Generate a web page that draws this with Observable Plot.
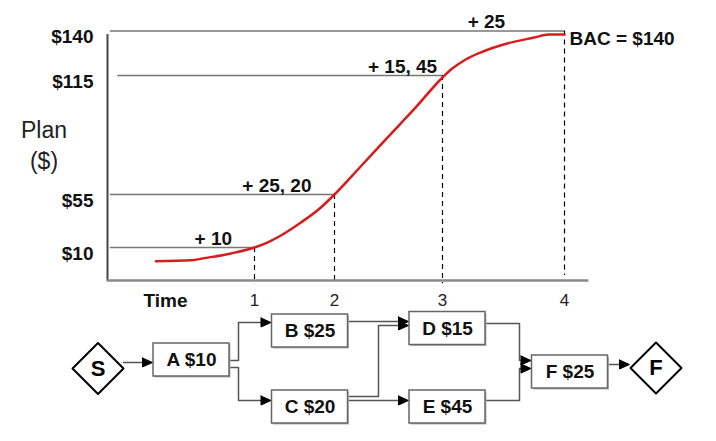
<!DOCTYPE html>
<html><head><meta charset="utf-8">
<script src="https://cdn.jsdelivr.net/npm/d3@7"></script>
<script src="https://cdn.jsdelivr.net/npm/@observablehq/plot@0.6"></script>
<style>
html,body{margin:0;padding:0;background:#fff;}
#chart svg{display:block;}
</style></head><body><div id="chart"></div>
<script>
// ---- chart data ----
const periods = [1, 2, 3, 4];
const cumulativePlan = [10, 55, 115, 140];
const yTickLabels = ["$10", "$55", "$115", "$140"];
const periodIncrements = ["+ 10", "+ 25, 20", "+ 15, 45", "+ 25"];
const incrementLabelTime = [0.72, 1.28, 2.63, 3.36];
const bac = 140;
const curveTime  = [0.33, 0.57, 0.65, 0.84, 1.0, 1.16, 1.33, 1.58, 1.83, 2.0, 2.24, 2.49, 2.75, 3.0, 3.08, 3.19, 3.31, 3.53, 3.75, 3.87, 4.0];
const curvePlan  = [5.8, 6.1, 6.7, 8.2, 10, 14.2, 20.2, 31.2, 44, 55, 69, 83.7, 98.8, 114, 118.9, 124, 127.9, 133, 136.3, 138, 138];

// ---- network data ----
const activities = ["A", "B", "C", "D", "E", "F"];
const activityCost = [10, 25, 20, 15, 45, 25];
const dependencies = [["S","A"],["A","B"],["A","C"],["B","D"],["C","D"],["C","E"],["D","F"],["E","F"],["F","End"]];

const font = "'Liberation Sans', Arial, Helvetica, sans-serif";
const rows = periods.map((t, i) => ({t, v: cumulativePlan[i], label: yTickLabels[i], inc: periodIncrements[i], lt: incrementLabelTime[i]}));
const curve = curveTime.map((t, i) => ({t, v: curvePlan[i]}));

const chart = Plot.plot({
  width: 716, height: 312, margin: 0,
  x: {type: "linear", domain: [0, 1, 2, 3, 4], range: [107, 254, 334, 442, 564], axis: null},
  y: {type: "linear", domain: [0, 10, 55, 115, 140], range: [280, 247, 194, 75, 30.5], axis: null},
  style: {fontFamily: font, background: "white", overflow: "visible"},
  marks: [
    Plot.ruleY(rows, {y: "v", x1: (d, i) => i === 2 ? 0.07 : 0.02, x2: "t", stroke: "#777", strokeWidth: 1.5}),
    Plot.ruleX(rows, {x: "t", y1: "v", y2: d => d.t === 4 ? 1.5 : -1, stroke: "#000", strokeWidth: 1.2, strokeDasharray: "5,4"}),
    Plot.ruleX([0], {x: d => d, y1: -0.3, y2: 138, stroke: "#444", strokeWidth: 2}),
    Plot.ruleY([0], {y: d => d, x1: 0, x2: 4.2, stroke: "#8a8a8a", strokeWidth: 2.5}),
    Plot.line(curve, {x: "t", y: "v", curve: "monotone-x", stroke: "#d81c1c", strokeWidth: 2.5}),
    Plot.text(rows, {x: () => 0, y: "v", text: "label", dx: -14, dy: 6, textAnchor: "end", fontWeight: "bold", fontSize: 19, fill: "#111"}),
    Plot.text(rows, {x: "lt", y: "v", text: "inc", lineAnchor: "bottom", dy: -3, fontWeight: "bold", fontSize: 19, fill: "#111"}),
    Plot.text([bac], {x: () => 4, y: d => d, text: d => `BAC = $${d}`, textAnchor: "start", dx: 5, dy: 8, fontWeight: "bold", fontSize: 19, fill: "#111"}),
    Plot.text(periods, {x: d => d, y: () => 0, text: d => String(d), dy: 20, fontSize: 17, fill: "#222"}),
    Plot.text(["Time"], {x: () => 0, y: () => 0, text: d => d, dx: 58, dy: 20, fontWeight: "bold", fontSize: 19, fill: "#111"}),
    Plot.text(["Plan"], {frameAnchor: "top-left", text: d => d, dx: 43.5, dy: 130, textAnchor: "middle", lineAnchor: "middle", fontSize: 23, fill: "#222"}),
    Plot.text(["($)"], {frameAnchor: "top-left", text: d => d, dx: 43.5, dy: 161, textAnchor: "middle", lineAnchor: "middle", fontSize: 23, fill: "#222"})
  ]
});

// ---- network layout (schematic positions) ----
const center = {S: [97.5, 368], A: [191, 359.5], B: [309.5, 330.5], C: [309.5, 406.5], D: [447, 328], E: [447, 406.5], F: [569.5, 371.5], End: [655.5, 367.5]};
const boxW = 76, boxH = 33, dia = 25.5;
const portY = {"S-A": [362, 362], "A-B": [360, 322], "A-C": [367, 400], "B-D": [321, 321], "C-D": [396, 325], "C-E": [400, 400], "D-F": [323, 360], "E-F": [400, 368], "F-End": [364, 364]};
const elbowX = {"A-B": 238, "A-C": 238, "C-D": 378, "D-F": 519, "E-F": 519};
const halfW = id => (id === "S" || id === "End") ? dia : boxW / 2;

const boxes = activities.map((a, i) => ({id: a, label: `${a} $${activityCost[i]}`, cx: center[a][0], cy: center[a][1]}));
const diamonds = [{id: "S", label: "S"}, {id: "End", label: "F"}];
const diamondPts = diamonds.flatMap(d => {
  const [cx, cy] = center[d.id];
  return [[cx - dia, cy], [cx, cy - dia], [cx + dia, cy], [cx, cy + dia], [cx - dia, cy]].map(([x, y]) => ({id: d.id, x, y}));
});
const edgePts = [], headPts = [];
dependencies.forEach(([s, t]) => {
  const key = `${s}-${t}`;
  const [y0, y1] = portY[key];
  const x0 = center[s][0] + halfW(s);
  const tip = center[t][0] - halfW(t) - 1;
  const pts = [[x0, y0]];
  if (elbowX[key]) { pts.push([elbowX[key], y0], [elbowX[key], y1]); }
  pts.push([tip - 8, y1]);
  pts.forEach(([x, y]) => edgePts.push({key, x, y}));
  [[tip - 10, y1 - 4.5], [tip, y1], [tip - 10, y1 + 4.5], [tip - 10, y1 - 4.5]].forEach(([x, y]) => headPts.push({key, x, y}));
});

const net = Plot.plot({
  width: 716, height: 129, margin: 0,
  x: {domain: [0, 716], range: [0, 716], axis: null},
  y: {domain: [312, 441], range: [0, 129], axis: null},
  style: {fontFamily: font, background: "white", overflow: "visible"},
  marks: [
    Plot.line(edgePts, {x: "x", y: "y", z: "key", stroke: "#555", strokeWidth: 1.5}),
    Plot.line(headPts, {x: "x", y: "y", z: "key", fill: "#000", stroke: "#000", strokeWidth: 1}),
    Plot.rect(boxes, {x1: d => d.cx - boxW / 2 + 1.5, x2: d => d.cx + boxW / 2 + 1.5, y1: d => d.cy - boxH / 2 + 1.5, y2: d => d.cy + boxH / 2 + 1.5, fill: "#b5b5b5"}),
    Plot.rect(boxes, {x1: d => d.cx - boxW / 2, x2: d => d.cx + boxW / 2, y1: d => d.cy - boxH / 2, y2: d => d.cy + boxH / 2, fill: "white", stroke: "#666", strokeWidth: 1.5}),
    Plot.text(boxes, {x: "cx", y: "cy", text: "label", fontWeight: "bold", fontSize: 19, fill: "#111"}),
    Plot.line(diamondPts, {x: "x", y: "y", z: "id", fill: "white", stroke: "#000", strokeWidth: 2}),
    Plot.text(diamonds, {x: d => center[d.id][0], y: d => center[d.id][1], text: "label", fontWeight: "bold", fontSize: 22, fill: "#000"})
  ]
});

const root = document.getElementById("chart");
root.appendChild(chart);
root.appendChild(net);
</script>
</body></html>
